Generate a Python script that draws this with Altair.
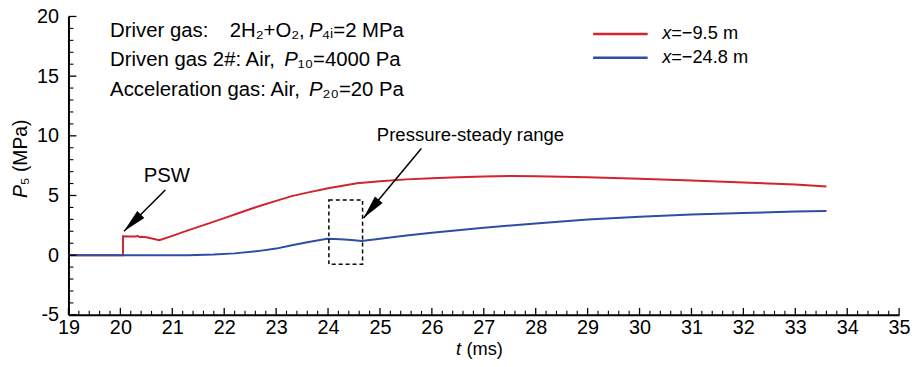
import math
import altair as alt
import pandas as pd

# ---- series values ----
red_t = [19.0, 20.05, 20.05, 20.2, 20.3, 20.33, 20.36, 20.4, 20.5, 20.75, 21.0, 21.3, 21.69,
         22.0, 22.3, 22.65, 23.0, 23.3, 23.6, 24.0, 24.56, 25.0, 25.51, 26.0, 26.5, 27.0,
         27.5, 28.0, 29.0, 30.0, 31.0, 32.0, 33.0, 33.6]
red_p = [0.0, 0.0, 1.59, 1.57, 1.56, 1.62, 1.52, 1.55, 1.5, 1.25, 1.62, 2.08, 2.64,
         3.1, 3.55, 4.08, 4.55, 4.95, 5.24, 5.6, 6.02, 6.2, 6.35, 6.45, 6.53, 6.6,
         6.63, 6.62, 6.53, 6.4, 6.25, 6.08, 5.92, 5.75]

blue_t = [19.0, 21.3, 21.8, 22.2, 22.65, 23.0, 23.28, 23.6, 23.98, 24.24, 24.45, 24.65,
          25.0, 25.51, 26.0, 26.5, 27.0, 28.0, 29.0, 30.0, 31.0, 32.0, 33.0, 33.6]
blue_p = [0.0, 0.0, 0.05, 0.15, 0.34, 0.55, 0.81, 1.08, 1.37, 1.34, 1.28, 1.18,
          1.38, 1.64, 1.88, 2.08, 2.3, 2.65, 2.98, 3.21, 3.4, 3.54, 3.65, 3.7]

series_names = ["x=\u22129.5 m", "x=\u221224.8 m"]

x_major = list(range(19, 36))
x_minor = [round(19 + 0.2 * i, 1) for i in range(81) if i % 5 != 0]
y_major = [-5, 0, 5, 10, 15, 20]
y_minor = [v for v in range(-5, 21) if v % 5 != 0]

RED = "#d2232f"
BLUE = "#2d4ea2"
FONT = "Liberation Sans"
W, H = 838, 301
NOTE_FS = 20.5

xs = alt.Scale(domain=[19, 35], nice=False, zero=False)
ys = alt.Scale(domain=[-5, 20], nice=False, zero=False)
xaxis = alt.Axis(values=x_major, format="d", title=None, grid=False, ticks=False,
                 domainColor="black", domainWidth=2, labelColor="black",
                 labelFont=FONT, labelFontSize=20, labelPadding=3,
                 labelFlush=False, labelOverlap=False)
yaxis = alt.Axis(values=y_major, format="d", title=None, grid=False, ticks=False,
                 domainColor="black", domainWidth=2, labelColor="black",
                 labelFont=FONT, labelFontSize=20, labelPadding=10,
                 labelOverlap=False,
                 labelExpr="replace(datum.label, '\u2212', '-')")


def X(f):
    return alt.X(f, type="quantitative", scale=xs, axis=xaxis)


def Y(f):
    return alt.Y(f, type="quantitative", scale=ys, axis=yaxis)


red_df = pd.DataFrame({"t": red_t, "P": red_p, "i": range(len(red_t))})
blue_df = pd.DataFrame({"t": blue_t, "P": blue_p, "i": range(len(blue_t))})

red_line = alt.Chart(red_df).mark_line(color=RED, strokeWidth=2).encode(
    x=X("t"), y=Y("P"), order="i:Q")
blue_line = alt.Chart(blue_df).mark_line(color=BLUE, strokeWidth=2).encode(
    x=X("t"), y=Y("P"), order="i:Q")

# ---- inward ticks ----
xmaj = alt.Chart(pd.DataFrame({"v": x_major})).mark_rule(color="black", strokeWidth=1.3).encode(
    x=X("v"), y=alt.value(H), y2=alt.value(H - 7))
xmin = alt.Chart(pd.DataFrame({"v": x_minor})).mark_rule(color="black", strokeWidth=1.1).encode(
    x=X("v"), y=alt.value(H), y2=alt.value(H - 4))
ymaj = alt.Chart(pd.DataFrame({"v": y_major})).mark_rule(color="black", strokeWidth=1.3).encode(
    y=Y("v"), x=alt.value(0), x2=alt.value(8))
ymin = alt.Chart(pd.DataFrame({"v": y_minor})).mark_rule(color="black", strokeWidth=1.1).encode(
    y=Y("v"), x=alt.value(0), x2=alt.value(5))

# ---- legend (drawn) ----
leg_df = pd.DataFrame({"t1": [29.106, 29.106], "t2": [30.156, 30.156], "P": [18.53, 16.54],
                       "s": series_names})
leg_lines = alt.Chart(leg_df).mark_rule(strokeWidth=2.6).encode(
    x=X("t1"), x2="t2", y=Y("P"),
    color=alt.Color("s:N", scale=alt.Scale(domain=series_names, range=[RED, BLUE]), legend=None))
leg_x = alt.Chart(pd.DataFrame({"t": [30.437, 30.437], "P": [18.15, 16.12]})).mark_text(
    text="x", font=FONT, fontSize=18.4, fontStyle="italic", align="left", baseline="alphabetic",
    color="black").encode(x=X("t"), y=Y("P"))
leg_txt = alt.Chart(pd.DataFrame({"t": [30.61, 30.61], "P": [18.15, 16.12],
                                  "s": [n[1:] for n in series_names]})).mark_text(
    font=FONT, fontSize=18.4, align="left", baseline="alphabetic", color="black").encode(
    x=X("t"), y=Y("P"), text="s:N")

# ---- condition notes ----
notes = pd.DataFrame({
    "t": [19.802, 22.106, 23.88, 19.802, 23.417, 19.802, 23.895],
    "P": [18.30, 18.30, 18.30, 15.82, 15.82, 13.36, 13.36],
    "s": ["Driver gas:", "2H\u2082+O\u2082,", "\u2084\u1d62=2 MPa",
          "Driven gas 2#: Air,", "\u2081\u2080=4000 Pa",
          "Acceleration gas: Air,", "\u2082\u2080=20 Pa"],
})
notes_txt = alt.Chart(notes).mark_text(font=FONT, fontSize=NOTE_FS, align="left",
                                       baseline="alphabetic", color="black").encode(
    x=X("t"), y=Y("P"), text="s:N")
notes_p = alt.Chart(pd.DataFrame({"t": [23.634, 23.157, 23.634],
                                  "P": [18.30, 15.82, 13.36]})).mark_text(
    text="P", font=FONT, fontSize=NOTE_FS, fontStyle="italic", align="left",
    baseline="alphabetic", color="black").encode(x=X("t"), y=Y("P"))

# ---- annotations: PSW and pressure-steady range ----
psw_txt = alt.Chart(pd.DataFrame({"t": [20.896], "P": [6.10]})).mark_text(
    text="PSW", font=FONT, fontSize=20.5, align="center", baseline="alphabetic",
    color="black").encode(x=X("t"), y=Y("P"))
psr_txt = alt.Chart(pd.DataFrame({"t": [24.94], "P": [9.56]})).mark_text(
    text="Pressure-steady range", font=FONT, fontSize=18.7, align="left",
    baseline="alphabetic", color="black").encode(x=X("t"), y=Y("P"))

arrows = pd.DataFrame({"t0": [20.865, 25.797], "P0": [5.465, 8.93],
                       "t1": [20.069, 24.684], "P1": [2.0, 3.11]})
pxx, pxy = W / 16.0, H / 25.0
arrows["ang"] = [
    (math.degrees(math.atan2((r.t1 - r.t0) * pxx, (r.P1 - r.P0) * pxy)) + 360) % 360
    for r in arrows.itertuples()
]
arrow_shafts = alt.Chart(arrows).mark_rule(color="black", strokeWidth=1.5).encode(
    x=X("t0"), y=Y("P0"), x2="t1", y2="P1")
arrow_heads = alt.Chart(arrows).mark_point(
    shape="M0,0 L0.42,2 L-0.42,2 Z", filled=True, color="black", opacity=1,
    size=576, strokeWidth=0).encode(x=X("t1"), y=Y("P1"), angle=alt.Angle("ang:Q", scale=None))

box = alt.Chart(pd.DataFrame({"t0": [24.016], "t1": [24.665], "P0": [4.63], "P1": [-0.76]})).mark_rect(
    fillOpacity=0, stroke="black", strokeDash=[4, 3], strokeWidth=1.5).encode(
    x=X("t0"), x2="t1", y=Y("P0"), y2="P1")

# ---- axis titles (drawn as text) ----
ytitle_p = alt.Chart(pd.DataFrame({"t": [18.198], "P": [4.80]})).mark_text(
    text="P", font=FONT, fontSize=19.5, fontStyle="italic", angle=270, align="left",
    baseline="alphabetic", color="black").encode(x=X("t"), y=Y("P"))
ytitle_r = alt.Chart(pd.DataFrame({"t": [18.198], "P": [5.86]})).mark_text(
    text="\u2085 (MPa)", font=FONT, fontSize=19.5, angle=270, align="left",
    baseline="alphabetic", color="black").encode(x=X("t"), y=Y("P"))
xtitle_t = alt.Chart(pd.DataFrame({"t": [26.465], "P": [-8.40]})).mark_text(
    text="t", font=FONT, fontSize=18.4, fontStyle="italic", align="left",
    baseline="alphabetic", color="black").encode(x=X("t"), y=Y("P"))
xtitle_r = alt.Chart(pd.DataFrame({"t": [26.665], "P": [-8.40]})).mark_text(
    text="(ms)", font=FONT, fontSize=18.4, align="left",
    baseline="alphabetic", color="black").encode(x=X("t"), y=Y("P"))

chart = alt.layer(
    red_line, blue_line, xmaj, xmin, ymaj, ymin, box, arrow_shafts, arrow_heads,
    psw_txt, psr_txt, notes_txt, notes_p, leg_lines, leg_x, leg_txt,
    ytitle_p, ytitle_r, xtitle_t, xtitle_r,
).properties(
    width=W, height=H,
    autosize=alt.AutoSizeParams(type="none"),
    padding={"left": 61, "top": 7, "right": 14, "bottom": 43},
    background="white",
).configure_view(stroke=None)

chart.save("out.html", embed_options={"renderer": "svg", "actions": False})
